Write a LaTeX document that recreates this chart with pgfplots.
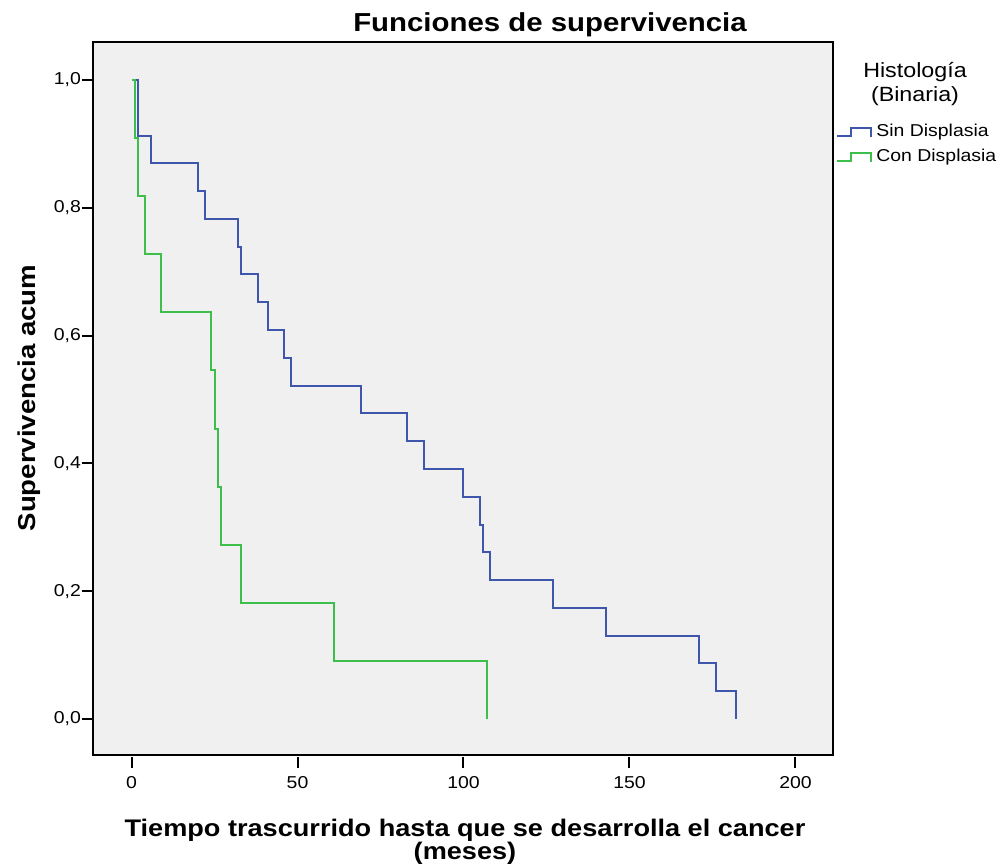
\documentclass[border=0pt]{standalone}
\usepackage{fontspec}
\setmainfont{Liberation Sans}[FakeStretch=1.13]
\usepackage{pgfplots}
\pgfplotsset{compat=1.18}
\definecolor{sinc}{RGB}{62,87,173}
\definecolor{conc}{RGB}{62,190,74}
\definecolor{bgc}{RGB}{240,240,240}
\begin{document}
\begin{tikzpicture}
\useasboundingbox (-46.5pt,-56.5pt) rectangle (454.5pt,377.5pt);
\begin{axis}[
 scale only axis, width=370pt, height=356.5pt,
 at={(0,0)}, anchor=south west,
 xmin=-11.6, xmax=211.3, ymin=-0.0563, ymax=1.0595,
 axis background/.style={fill=bgc},
 axis line style={black, line width=1pt},
 xtick={0,50,100,150,200}, ytick={0,0.2,0.4,0.6,0.8,1},
 tick pos=left, tick align=outside, major tick length=5.5pt,
 tick style={black, line width=1pt},
 xtick style={yshift=-1pt},
 ticklabel style={font=\fontsize{8.6}{10}\selectfont},
 /pgf/number format/assume math mode=true,
 yticklabel style={xshift=3pt, /pgf/number format/fixed, /pgf/number format/fixed zerofill, /pgf/number format/precision=1, /pgf/number format/use comma},
 xticklabel style={yshift=-1.5pt, /pgf/number format/fixed, /pgf/number format/precision=0},
 legend style={at={(1.004,0.8906)}, anchor=north west, draw=none, fill=none, font=\fontsize{8.6}{10}\selectfont, row sep=0.8pt, inner sep=0pt},
 legend cell align=left,
 legend image code/.code={\draw[#1] (0pt,-2pt) -- (7pt,-2pt) -- (7pt,2pt) -- (17pt,2pt) -- (17pt,-2.5pt);},
]
\addplot[const plot, sinc, line width=1pt] coordinates {
(0,1) (2,0.91304) (6,0.86957) (20,0.82609) (22,0.78261) (32,0.73913) (33,0.69565)
(38,0.65217) (41,0.60870) (46,0.56522) (48,0.52174) (69,0.47826) (83,0.43478)
(88,0.39130) (100,0.34783) (105,0.30435) (106,0.26087) (108,0.21739) (127,0.17391)
(143,0.13043) (171,0.08696) (176,0.04348) (182,0)
};
\addlegendentry{Sin Displasia}
\addplot[const plot, conc, line width=1pt] coordinates {
(0,1) (1,0.90909) (2,0.81818) (4,0.72727) (9,0.63636) (24,0.54545) (25,0.45455)
(26,0.36364) (27,0.27273) (33,0.18182) (61,0.09091) (107,0)
};
\addlegendentry{Con Displasia}
\end{axis}
\node[font=\bfseries\fontsize{13}{15}\selectfont] at (228.5pt,365pt) {Funciones de supervivencia};
\node[rotate=90, font=\bfseries\fontsize{12.2}{14}\selectfont] at (-32pt,178.5pt) {Supervivencia acum};
\node[align=center, font=\bfseries\fontsize{12}{11.5}\selectfont] at (186pt,-43.5pt) {Tiempo trascurrido hasta que se desarrolla el cancer\\(meses)};
\node[align=center, font=\fontsize{10.3}{12}\selectfont] at (411pt,335.5pt) {Histología\\(Binaria)};
\end{tikzpicture}
\end{document}
